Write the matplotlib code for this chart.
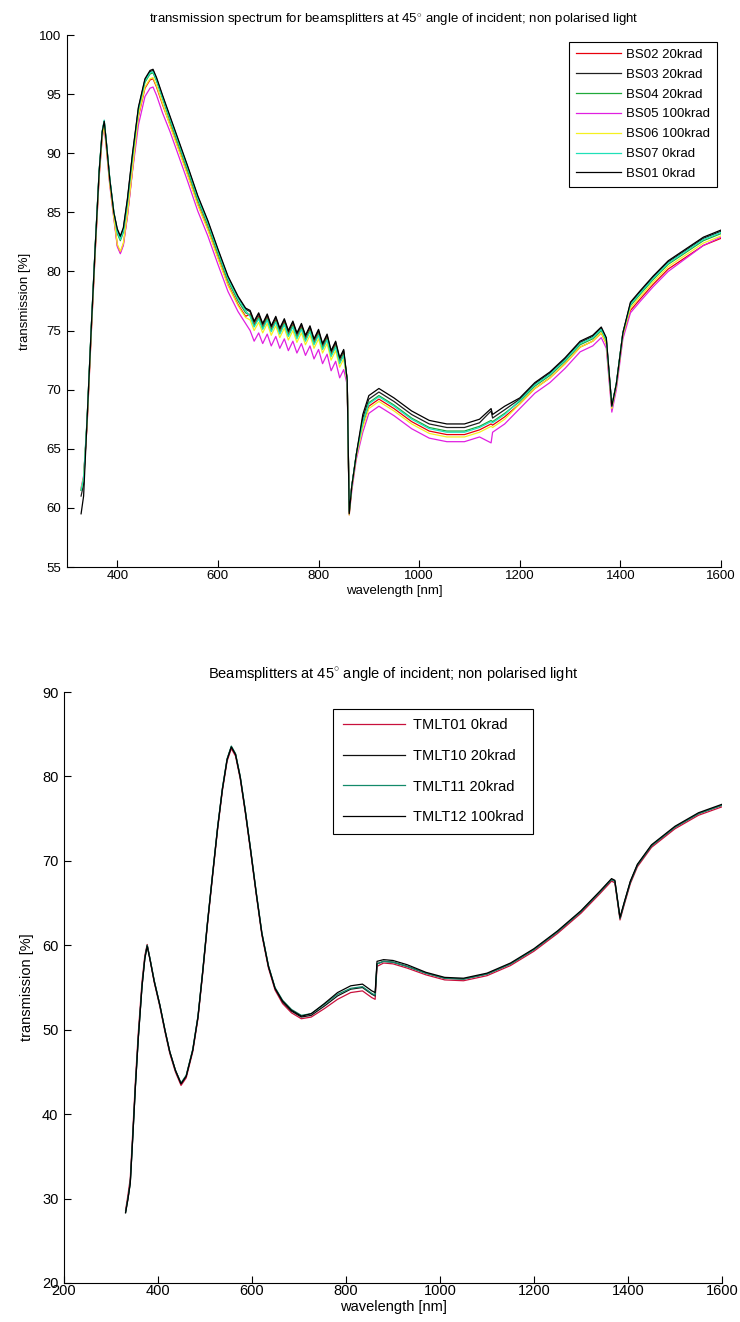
import matplotlib
matplotlib.use("Agg")
import matplotlib.pyplot as plt

plt.rcParams['font.family'] = ['Liberation Sans', 'DejaVu Sans']
plt.rcParams['mathtext.fontset'] = 'custom'
plt.rcParams['mathtext.rm'] = 'Liberation Sans'

# ---- upper plot: BS beamsplitters, wavelength grid [nm]
wl_bs = [328, 333, 340, 348, 356, 364, 370, 374, 378, 385, 393,
         400, 406, 412, 420, 430,
         442, 455, 465, 471, 478, 490,
         505, 520, 540, 560, 580, 600, 620, 640, 655,
         664, 672, 681, 689, 698, 706, 715, 723, 732, 740, 749, 757, 766, 774, 783, 791, 800, 808, 817, 825, 834, 842, 850,
         857, 861, 866, 875,
         888, 900, 920, 950, 985, 1020, 1055, 1090, 1120, 1143, 1146, 1170,
         1200, 1230, 1260, 1290, 1320, 1345, 1362, 1372,
         1383, 1392, 1405,
         1420, 1440, 1465, 1495, 1530, 1565, 1600]

bs02 = [61.5, 62.5, 67.2, 74.7, 81.7, 88.2, 91.5, 92.4, 90.7, 87.5, 84.7,
        82.2, 81.6, 82.3, 84.7, 88.5,
        93.1, 95.5, 96.2, 96.3, 95.6, 94.1,
        92.4, 90.6, 88.2, 85.7, 83.6, 81.2, 78.9, 77.2, 76.2,
        76.4, 75.5, 76.2, 75.3, 76.1, 75.1, 75.9, 74.9, 75.7, 74.7, 75.5, 74.5, 75.3, 74.3, 75.1, 74.0, 74.8, 73.6, 74.4, 73.0, 73.8, 72.4, 73.1,
        70.8, 59.8, 61.8, 64.3,
        67.0, 68.6, 69.2, 68.4, 67.3, 66.5, 66.2, 66.2, 66.6, 67.1, 67.0, 67.7,
        68.8, 70.1, 71.0, 72.2, 73.6, 74.1, 74.8, 73.9,
        68.4, 70.3, 74.6,
        76.7, 77.7, 78.9, 80.2, 81.2, 82.2, 82.8]

bs03 = [61.0, 62.0, 67.5, 75.0, 82.0, 88.5, 91.8, 92.7, 91.0, 87.8, 85.0,
        83.5, 82.9, 83.6, 86.0, 89.8,
        93.8, 96.2, 96.9, 97.0, 96.3, 94.8,
        93.0, 91.2, 88.8, 86.3, 84.2, 81.8, 79.5, 77.8, 76.8,
        76.6, 75.7, 76.4, 75.5, 76.3, 75.3, 76.1, 75.1, 75.9, 74.9, 75.7, 74.7, 75.5, 74.5, 75.3, 74.2, 75.0, 73.8, 74.6, 73.2, 74.0, 72.6, 73.3,
        70.8, 59.6, 61.8, 64.5,
        67.6, 69.2, 69.8, 69.0, 67.9, 67.1, 66.8, 66.8, 67.2, 68.2, 67.6, 68.3,
        69.2, 70.5, 71.4, 72.6, 74.0, 74.5, 75.2, 74.3,
        68.6, 70.5, 74.8,
        77.3, 78.3, 79.5, 80.8, 81.8, 82.8, 83.4]

bs04 = [61.5, 62.5, 67.5, 75.0, 82.0, 88.5, 91.8, 92.7, 91.0, 87.8, 85.0,
        83.2, 82.6, 83.3, 85.7, 89.5,
        93.6, 96.0, 96.7, 96.8, 96.1, 94.6,
        92.7, 90.9, 88.5, 86.0, 83.9, 81.5, 79.2, 77.5, 76.5,
        76.3, 75.4, 76.1, 75.2, 76.0, 75.0, 75.8, 74.8, 75.6, 74.6, 75.4, 74.4, 75.2, 74.2, 75.0, 73.9, 74.7, 73.5, 74.3, 72.9, 73.7, 72.3, 73.0,
        70.8, 59.7, 61.8, 64.5,
        67.3, 68.9, 69.5, 68.7, 67.6, 66.8, 66.5, 66.5, 66.9, 67.4, 67.3, 68.0,
        69.0, 70.3, 71.2, 72.4, 73.8, 74.3, 75.0, 74.1,
        68.6, 70.5, 74.8,
        77.1, 78.1, 79.3, 80.6, 81.6, 82.6, 83.2]

bs05 = [61.7, 62.7, 67.0, 74.5, 81.5, 88.0, 91.3, 92.2, 90.5, 87.3, 84.5,
        82.1, 81.5, 82.2, 84.6, 88.4,
        92.4, 94.8, 95.5, 95.6, 94.9, 93.4,
        91.8, 90.0, 87.6, 85.1, 83.0, 80.6, 78.3, 76.6, 75.6,
        75.0, 74.1, 74.8, 73.9, 74.7, 73.7, 74.5, 73.5, 74.3, 73.3, 74.1, 73.1, 73.9, 72.9, 73.7, 72.6, 73.4, 72.2, 73.0, 71.6, 72.4, 71.0, 71.7,
        70.4, 59.4, 61.4, 64.1,
        66.4, 68.0, 68.6, 67.8, 66.7, 65.9, 65.6, 65.6, 66.0, 65.5, 66.4, 67.1,
        68.4, 69.7, 70.6, 71.8, 73.2, 73.7, 74.4, 73.5,
        68.1, 70.0, 74.3,
        76.5, 77.5, 78.7, 80.0, 81.1, 82.2, 82.9]

bs06 = [61.6, 62.6, 67.1, 74.6, 81.6, 88.1, 91.4, 92.3, 90.6, 87.4, 84.6,
        82.3, 81.7, 82.4, 84.8, 88.6,
        93.2, 95.6, 96.3, 96.4, 95.7, 94.2,
        92.3, 90.5, 88.1, 85.6, 83.5, 81.1, 78.8, 77.1, 76.1,
        75.9, 75.0, 75.7, 74.8, 75.6, 74.6, 75.4, 74.4, 75.2, 74.2, 75.0, 74.0, 74.8, 73.8, 74.6, 73.5, 74.3, 73.1, 73.9, 72.5, 73.3, 71.9, 72.6,
        70.6, 59.4, 61.6, 64.3,
        66.8, 68.4, 69.0, 68.2, 67.1, 66.3, 66.0, 66.0, 66.4, 66.9, 66.8, 67.5,
        68.8, 70.1, 71.0, 72.2, 73.6, 74.1, 74.8, 73.9,
        68.4, 70.3, 74.6,
        76.9, 77.9, 79.1, 80.4, 81.4, 82.4, 83.0]

bs07 = [61.5, 62.5, 67.6, 75.1, 82.1, 88.6, 91.9, 92.8, 91.1, 87.9, 85.1,
        83.3, 82.7, 83.4, 85.8, 89.6,
        93.7, 96.1, 96.8, 96.9, 96.2, 94.7,
        92.9, 91.1, 88.7, 86.2, 84.1, 81.7, 79.4, 77.7, 76.7,
        76.2, 75.3, 76.0, 75.1, 75.9, 74.9, 75.7, 74.7, 75.5, 74.5, 75.3, 74.3, 75.1, 74.1, 74.9, 73.8, 74.6, 73.4, 74.2, 72.8, 73.6, 72.2, 72.9,
        70.8, 59.7, 61.8, 64.5,
        67.2, 68.8, 69.4, 68.6, 67.5, 66.7, 66.4, 66.4, 66.8, 67.3, 67.2, 67.9,
        69.1, 70.4, 71.3, 72.5, 73.9, 74.4, 75.1, 74.2,
        68.6, 70.5, 74.8,
        77.2, 78.2, 79.4, 80.7, 81.7, 82.7, 83.3]

bs01 = [59.5, 61.0, 67.5, 75.0, 82.0, 88.5, 91.8, 92.7, 91.0, 87.8, 85.0,
        83.6, 83.0, 83.7, 86.1, 89.9,
        93.9, 96.3, 97.0, 97.1, 96.4, 94.9,
        93.1, 91.3, 88.9, 86.4, 84.3, 81.9, 79.6, 77.9, 76.9,
        76.7, 75.8, 76.5, 75.6, 76.4, 75.4, 76.2, 75.2, 76.0, 75.0, 75.8, 74.8, 75.6, 74.6, 75.4, 74.3, 75.1, 73.9, 74.7, 73.3, 74.1, 72.7, 73.4,
        70.8, 59.5, 61.8, 64.5,
        67.9, 69.5, 70.1, 69.3, 68.2, 67.4, 67.1, 67.1, 67.5, 68.4, 67.9, 68.6,
        69.3, 70.6, 71.5, 72.7, 74.1, 74.6, 75.3, 74.4,
        68.6, 70.5, 74.8,
        77.4, 78.4, 79.6, 80.9, 81.9, 82.9, 83.5]

bs_series = [bs02, bs03, bs04, bs05, bs06, bs07, bs01]
bs_labels = ["BS02 20krad", "BS03 20krad", "BS04 20krad", "BS05 100krad",
             "BS06 100krad", "BS07 0krad", "BS01 0krad"]
bs_colors = ["#e8000b", "#202020", "#1faa3a", "#e020e0", "#f5f020", "#20e0b8", "#000000"]

# ---- lower plot: TMLT beamsplitters
wl_tm = [331, 336, 341, 346, 352, 358, 366, 372, 377, 383, 392, 404, 415, 425, 437, 449,
         460, 474, 485, 495, 505, 516, 527, 537, 547, 556, 565, 575, 586, 597, 609, 621,
         635, 649, 665, 684, 705, 726, 754, 782, 810, 835, 855, 862, 866, 880, 900, 930,
         970, 1010, 1050, 1100, 1150, 1200, 1250, 1300, 1340, 1365, 1372, 1383, 1392, 1405,
         1420, 1450, 1500, 1550, 1600]

tmlt01 = [28.6, 30.4, 32.4, 37.6, 44.0, 49.6, 55.7, 58.8, 60.1, 58.3, 55.6, 52.7, 49.7, 47.2, 45.0, 43.4,
          44.3, 47.4, 51.3, 56.6, 62.3, 68.1, 73.8, 78.3, 81.8, 83.3, 82.4, 79.7, 75.6, 71.1, 66.0, 61.2,
          57.3, 54.7, 53.1, 52.0, 51.3, 51.5, 52.5, 53.6, 54.4, 54.6, 53.8, 53.6, 57.5, 57.9, 57.8, 57.3,
          56.5, 55.9, 55.8, 56.4, 57.6, 59.3, 61.4, 63.8, 66.1, 67.6, 67.4, 63.0, 64.8, 67.3,
          69.3, 71.6, 73.8, 75.4, 76.4]

tmlt10 = [28.4, 30.0, 31.9, 37.0, 43.4, 49.0, 55.2, 58.5, 60.0, 58.4, 55.8, 52.9, 49.9, 47.4, 45.2, 43.6,
          44.5, 47.6, 51.5, 56.8, 62.5, 68.3, 74.0, 78.5, 82.0, 83.5, 82.6, 79.9, 75.8, 71.3, 66.2, 61.4,
          57.5, 54.9, 53.3, 52.2, 51.5, 51.7, 52.8, 54.0, 54.8, 55.0, 54.2, 54.0, 57.8, 58.1, 58.0, 57.5,
          56.7, 56.1, 56.0, 56.6, 57.8, 59.5, 61.6, 64.0, 66.3, 67.8, 67.6, 63.2, 65.0, 67.5,
          69.5, 71.8, 74.0, 75.6, 76.6]

tmlt11 = [28.4, 30.0, 31.9, 37.0, 43.4, 49.0, 55.2, 58.5, 60.0, 58.4, 55.8, 52.9, 49.9, 47.4, 45.2, 43.7,
          44.6, 47.7, 51.6, 56.9, 62.6, 68.4, 74.1, 78.6, 82.1, 83.6, 82.7, 80.0, 75.9, 71.4, 66.3, 61.5,
          57.6, 55.0, 53.5, 52.4, 51.7, 51.9, 53.0, 54.2, 54.9, 55.1, 54.3, 54.1, 57.8, 58.1, 58.0, 57.5,
          56.7, 56.1, 56.0, 56.6, 57.8, 59.5, 61.6, 64.0, 66.3, 67.8, 67.6, 63.2, 65.0, 67.5,
          69.5, 71.8, 74.0, 75.6, 76.6]

tmlt12 = [28.3, 29.9, 31.8, 36.9, 43.3, 48.9, 55.1, 58.4, 59.9, 58.3, 55.7, 52.9, 49.9, 47.4, 45.2, 43.6,
          44.5, 47.6, 51.5, 56.8, 62.5, 68.3, 74.0, 78.5, 82.0, 83.5, 82.6, 79.9, 75.8, 71.3, 66.2, 61.4,
          57.5, 54.9, 53.4, 52.3, 51.6, 51.9, 53.1, 54.4, 55.2, 55.4, 54.6, 54.4, 58.1, 58.3, 58.2, 57.7,
          56.8, 56.2, 56.1, 56.7, 57.9, 59.6, 61.7, 64.1, 66.4, 67.9, 67.7, 63.3, 65.1, 67.6,
          69.6, 71.9, 74.1, 75.7, 76.7]

tm_series = [tmlt01, tmlt10, tmlt11, tmlt12]
tm_labels = ["TMLT01 0krad", "TMLT10 20krad", "TMLT11 20krad", "TMLT12 100krad"]
tm_colors = ["#c8103c", "#101010", "#138a6a", "#000000"]


def matlab_axes(ax, fs):
    # box off, ticks pointing inside like the old matlab figures
    ax.spines['top'].set_visible(False)
    ax.spines['right'].set_visible(False)
    for s in ['left', 'bottom']:
        ax.spines[s].set_linewidth(0.8)
    ax.tick_params(direction='in', length=5, width=0.8, labelsize=fs)
    ax.tick_params(axis='x', pad=2)
    ax.tick_params(axis='y', pad=4)


fig = plt.figure(figsize=(7.4, 13.22), dpi=100)

ax1 = fig.add_axes([67 / 740, 1 - 567 / 1322, 654 / 740, 532 / 1322])
for y, lab, c in zip(bs_series, bs_labels, bs_colors):
    ax1.plot(wl_bs, y, color=c, lw=0.9, label=lab)
ax1.set_xlim(300, 1600)
ax1.set_ylim(55, 100)
ax1.set_xticks(range(400, 1601, 200))
ax1.set_yticks(range(55, 101, 5))
matlab_axes(ax1, 9.5)
ax1.set_xlabel("wavelength [nm]", fontsize=9.5, labelpad=2)
ax1.set_ylabel("transmission [%]", fontsize=9.5, labelpad=6)
ax1.set_title("transmission spectrum for beamsplitters at 45$^{\\circ}$ angle of incident; non polarised light",
              fontsize=9.5, pad=9)
leg1 = ax1.legend(loc='upper right', bbox_to_anchor=(0.994, 0.987), borderaxespad=0,
                  fontsize=9.5, handlelength=3.4, handletextpad=0.45, labelspacing=0.58,
                  borderpad=0.5, fancybox=False, framealpha=1, edgecolor='black')
leg1.get_frame().set_linewidth(0.8)

ax2 = fig.add_axes([64 / 740, 1 - 1283 / 1322, 658 / 740, 591 / 1322])
for y, lab, c in zip(tm_series, tm_labels, tm_colors):
    ax2.plot(wl_tm, y, color=c, lw=0.9, label=lab)
ax2.set_xlim(200, 1600)
ax2.set_ylim(20, 90)
ax2.set_xticks(range(200, 1601, 200))
ax2.set_yticks(range(20, 91, 10))
matlab_axes(ax2, 10.5)
ax2.tick_params(axis='x', pad=1)
ax2.set_xlabel("wavelength [nm]", fontsize=10.5, labelpad=1)
ax2.set_ylabel("transmission [%]", fontsize=10.5, labelpad=6)
ax2.set_title("Beamsplitters at 45$^{\\circ}$ angle of incident; non polarised light", fontsize=10.5, pad=9)
leg2 = ax2.legend(loc='upper left', bbox_to_anchor=(0.409, 0.972), borderaxespad=0,
                  fontsize=10.5, handlelength=4.25, handletextpad=0.55, labelspacing=1.15,
                  borderpad=0.65, fancybox=False, framealpha=1, edgecolor='black')
leg2.get_frame().set_linewidth(0.8)

fig.savefig("out.png", dpi=100)
plt.close()
